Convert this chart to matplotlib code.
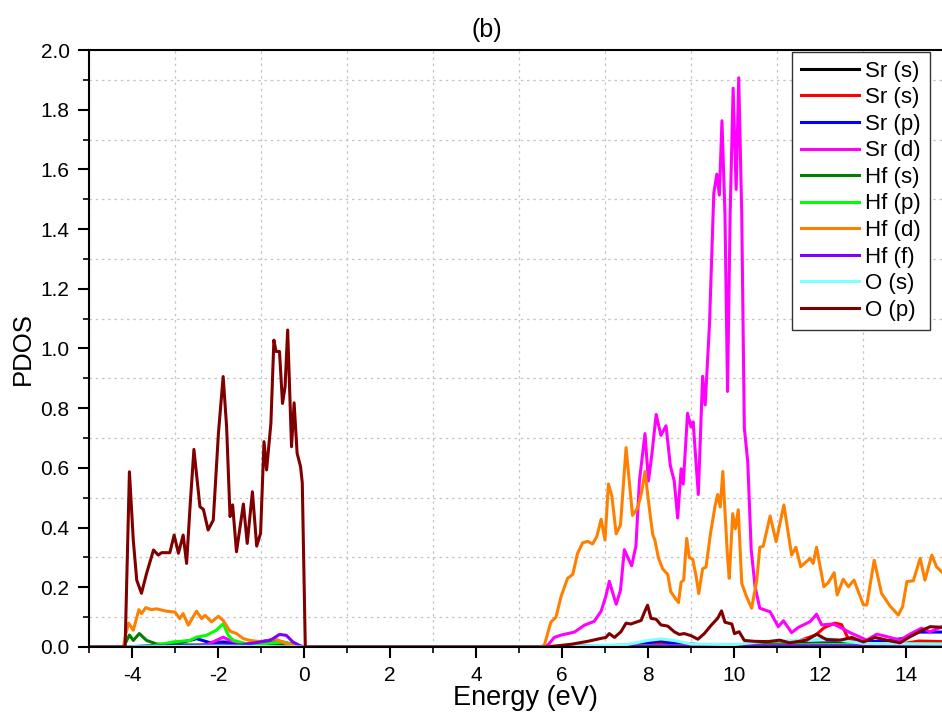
import matplotlib
matplotlib.use("Agg")
import matplotlib.pyplot as plt
from matplotlib.ticker import MultipleLocator

plt.rcParams['font.family'] = ['Liberation Sans', 'DejaVu Sans']
plt.rcParams['axes.unicode_minus'] = False

# energy grids (eV) and PDOS values
e_op = [-5, -4.2, -4.16, -4.06, -3.97, -3.89, -3.78, -3.66, -3.50, -3.39, -3.31, -3.12, -3.02,
        -2.92, -2.81, -2.73, -2.65, -2.56, -2.42, -2.34, -2.23, -2.11, -1.99, -1.88, -1.80,
        -1.72, -1.66, -1.57, -1.41, -1.32, -1.20, -1.10, -1.01, -0.93, -0.87, -0.77, -0.70,
        -0.65, -0.57, -0.50, -0.44, -0.38, -0.29, -0.23, -0.16, -0.08, -0.04, 0.03, 0.1,
        5.6, 5.82, 6.21, 6.60, 6.91, 7.02, 7.10, 7.22, 7.37, 7.49, 7.60, 7.84, 7.93, 7.99,
        8.07, 8.19, 8.30, 8.46, 8.61, 8.73, 8.84, 9.00, 9.16, 9.31, 9.47, 9.62, 9.71, 9.79,
        9.95, 10.01, 10.12, 10.24, 10.47, 10.8, 11.06, 11.29, 11.69, 11.92, 12.15, 12.47,
        12.74, 13.01, 13.28, 13.55, 13.86, 14.09, 14.36, 14.56, 14.84, 15]
op = [0, 0, 0.0, 0.587, 0.358, 0.224, 0.18, 0.247, 0.325, 0.308, 0.316, 0.316, 0.375,
      0.314, 0.375, 0.28, 0.47, 0.662, 0.47, 0.461, 0.392, 0.425, 0.716, 0.906, 0.738,
      0.437, 0.476, 0.319, 0.479, 0.347, 0.52, 0.338, 0.381, 0.688, 0.593, 0.749, 1.028,
      0.99, 0.99, 0.816, 0.872, 1.062, 0.671, 0.818, 0.649, 0.604, 0.55, 0.0, 0,
      0, 0.003, 0.009, 0.019, 0.029, 0.032, 0.045, 0.032, 0.051, 0.08, 0.077, 0.089, 0.121, 0.14,
      0.096, 0.093, 0.074, 0.07, 0.051, 0.042, 0.045, 0.038, 0.026, 0.045, 0.073, 0.096, 0.121, 0.083,
      0.077, 0.045, 0.051, 0.022, 0.019, 0.018, 0.023, 0.014, 0.023, 0.043, 0.025, 0.023,
      0.032, 0.017, 0.032, 0.023, 0.014, 0.034, 0.055, 0.068, 0.066, 0.066]

e_hfd = [-5, -4.2, -4.14, -4.08, -3.97, -3.84, -3.78, -3.68, -3.55, -3.43, -3.2, -3.0, -2.89,
         -2.81, -2.69, -2.5, -2.38, -2.3, -2.15, -1.99, -1.88, -1.72, -1.57, -1.41, -1.26,
         -0.95, -0.68, -0.41, 0.0, 0.1,
         5.5, 5.59, 5.74, 5.86, 5.98, 6.13, 6.25, 6.36, 6.48, 6.60, 6.71, 6.81, 6.91, 7.00,
         7.08, 7.16, 7.26, 7.36, 7.49, 7.64, 7.76, 7.85, 7.93, 8.03, 8.11, 8.16, 8.24, 8.34,
         8.46, 8.53, 8.65, 8.71, 8.77, 8.83, 8.90, 8.96, 9.04, 9.12, 9.18, 9.27, 9.35, 9.45,
         9.56, 9.62, 9.68, 9.74, 9.80, 9.85, 9.89, 9.97, 10.03, 10.10, 10.18, 10.29, 10.41,
         10.53, 10.60, 10.68, 10.84, 10.98, 11.16, 11.34, 11.44, 11.55, 11.77, 11.84, 11.92,
         12.09, 12.19, 12.33, 12.40, 12.54, 12.66, 12.79, 13.01, 13.09, 13.26, 13.43, 13.63,
         13.82, 13.92, 14.02, 14.17, 14.33, 14.44, 14.60, 14.71, 14.84, 15]
hfd = [0, 0, 0.045, 0.08, 0.056, 0.125, 0.112, 0.132, 0.125, 0.128, 0.12, 0.117, 0.095,
       0.112, 0.073, 0.12, 0.095, 0.106, 0.084, 0.103, 0.089, 0.053, 0.045, 0.028, 0.022,
       0.017, 0.028, 0.011, 0.0, 0,
       0, 0.006, 0.083, 0.10, 0.17, 0.23, 0.243, 0.313, 0.349, 0.354, 0.345, 0.37, 0.428, 0.358,
       0.546, 0.505, 0.379, 0.409, 0.668, 0.441, 0.466, 0.517, 0.588, 0.466, 0.377, 0.358, 0.30, 0.262,
       0.243, 0.185, 0.16, 0.149, 0.217, 0.224, 0.364, 0.30, 0.294, 0.236, 0.179, 0.262, 0.268, 0.377,
       0.473, 0.511, 0.469, 0.588, 0.428, 0.30, 0.23, 0.447, 0.396, 0.46, 0.213, 0.169, 0.13,
       0.224, 0.334, 0.338, 0.439, 0.353, 0.476, 0.308, 0.334, 0.269, 0.297, 0.28, 0.334,
       0.202, 0.215, 0.249, 0.174, 0.227, 0.202, 0.224, 0.141, 0.141, 0.291, 0.18, 0.137,
       0.107, 0.135, 0.219, 0.222, 0.297, 0.224, 0.308, 0.269, 0.25, 0.26]

e_srd = [-5, -4.2, -2.3, -2.04, -1.88, -1.72, -1.4, -0.9, -0.64, -0.33, 0.0, 0.1,
         5.5, 5.67, 5.82, 5.98, 6.29, 6.52, 6.75, 6.91, 7.02, 7.10, 7.26, 7.36, 7.45, 7.53,
         7.62, 7.72, 7.80, 7.93, 8.01, 8.09, 8.19, 8.30, 8.42, 8.52, 8.61, 8.69, 8.77, 8.82,
         8.92, 9.00, 9.05, 9.17, 9.27, 9.33, 9.43, 9.53, 9.60, 9.66, 9.72, 9.79, 9.85, 9.91,
         9.98, 10.05, 10.11, 10.18, 10.24, 10.32, 10.40, 10.49, 10.60, 10.84, 11.03, 11.15,
         11.34, 11.50, 11.77, 11.92, 12.04, 12.31, 12.47, 12.70, 13.09, 13.32, 13.55, 13.86,
         14.09, 14.36, 14.56, 14.84, 15]
srd = [0, 0, 0.005, 0.022, 0.033, 0.022, 0.01, 0.012, 0.022, 0.011, 0.0, 0,
       0, 0.006, 0.032, 0.04, 0.05, 0.073, 0.086, 0.12, 0.17, 0.22, 0.143, 0.19, 0.326, 0.30,
       0.272, 0.339, 0.556, 0.715, 0.556, 0.645, 0.779, 0.709, 0.741, 0.607, 0.556, 0.432, 0.597, 0.546,
       0.783, 0.737, 0.754, 0.511, 0.907, 0.811, 1.08, 1.52, 1.584, 1.514, 1.763, 1.45, 0.856, 1.45,
       1.872, 1.533, 1.907, 1.45, 0.735, 0.62, 0.326, 0.202, 0.13, 0.118, 0.068, 0.088,
       0.048, 0.066, 0.085, 0.11, 0.074, 0.077, 0.066, 0.048, 0.023, 0.043, 0.035, 0.023,
       0.043, 0.063, 0.051, 0.068, 0.068]

e_srs1 = [-5, -4.2, -3.0, -1.5, -0.5, 0.0, 5.6, 7.0, 8.5, 10.0, 11.5, 13.0, 14.84, 15]
srs1 = [0, 0, 0.003, 0.004, 0.005, 0, 0, 0.003, 0.006, 0.004, 0.005, 0.004, 0.006, 0.006]

e_srs2 = [-5, -4.2, -3.0, -1.8, -0.6, 0.0, 5.6, 7.5, 8.5, 9.5, 10.5, 11.5, 11.9, 12.1, 12.35,
          12.5, 12.65, 13.0, 13.8, 14.3, 14.84, 15]
srs2 = [0, 0, 0.004, 0.01, 0.012, 0, 0, 0.005, 0.015, 0.005, 0.008, 0.02, 0.04, 0.065, 0.08,
        0.075, 0.03, 0.01, 0.008, 0.02, 0.018, 0.018]

e_srp = [-5, -4.2, -3.2, -2.65, -2.5, -2.2, -1.88, -1.3, -0.72, -0.48, 0.0, 5.6, 7.5, 8.0,
         8.3, 8.6, 9.5, 11.0, 12.5, 13.5, 14.0, 14.3, 14.84, 15]
srp = [0, 0, 0.006, 0.022, 0.028, 0.015, 0.017, 0.01, 0.025, 0.013, 0, 0, 0.006, 0.015,
       0.02, 0.012, 0.006, 0.01, 0.015, 0.02, 0.03, 0.05, 0.05, 0.05]

e_hfs = [-5, -4.2, -4.06, -3.97, -3.83, -3.66, -3.43, -2.5, -1.5, -0.5, 0.0, 5.6, 8.0,
         10.5, 12.0, 14.84, 15]
hfs = [0, 0, 0.04, 0.022, 0.045, 0.022, 0.01, 0.006, 0.005, 0.004, 0, 0, 0.004,
       0.008, 0.01, 0.01, 0.01]

e_hfp = [-5, -4.2, -3.5, -3.04, -2.65, -2.5, -2.27, -2.04, -1.88, -1.76, -1.64, -1.33,
         -0.95, -0.48, 0.0, 5.6, 8.0, 10.5, 12.0, 14.84, 15]
hfp = [0, 0, 0.004, 0.017, 0.022, 0.033, 0.039, 0.056, 0.078, 0.039, 0.022, 0.011,
       0.011, 0.017, 0, 0, 0.004, 0.005, 0.008, 0.01, 0.01]

e_hff = [-5, -4.2, -3.0, -1.5, -0.79, -0.57, -0.41, -0.26, -0.1, 0.0, 5.6, 9.0, 12.0, 14.84, 15]
hff = [0, 0, 0.004, 0.006, 0.022, 0.042, 0.039, 0.017, 0.005, 0, 0, 0.004, 0.004, 0.004, 0.004]

e_os = [-5, -4.2, -2.0, 0.0, 5.6, 7.5, 8.0, 8.3, 8.6, 9.0, 10.0, 10.8, 11.1, 11.5, 12.2,
        13.0, 14.84, 15]
os_ = [0, 0, 0.003, 0, 0, 0.008, 0.022, 0.027, 0.022, 0.01, 0.008, 0.02, 0.02, 0.022, 0.028,
       0.012, 0.01, 0.01]

labels = ['Sr (s)', 'Sr (s)', 'Sr (p)', 'Sr (d)', 'Hf (s)', 'Hf (p)', 'Hf (d)', 'Hf (f)', 'O (s)', 'O (p)']
colors = ['#000000', '#FF0000', '#0000FF', '#FF00FF', '#008000', '#00FF00', '#FF8000',
          '#8000FF', '#80FFFF', '#800000']
series = [(e_srs1, srs1), (e_srs2, srs2), (e_srp, srp), (e_srd, srd), (e_hfs, hfs),
          (e_hfp, hfp), (e_hfd, hfd), (e_hff, hff), (e_os, os_), (e_op, op)]

fig = plt.figure(figsize=(9.42, 7.22), dpi=100)
# axes runs a little past the right edge, like the cropped original
ax = fig.add_axes([89 / 942, 75 / 722, 860 / 942, 597 / 722])

for (e, v), lab, c in zip(series, labels, colors):
    ax.plot(e, v, color=c, lw=2.2, label=lab)

ax.set_xlim(-5, 15)
ax.set_ylim(0, 2.0)
ax.xaxis.set_major_locator(MultipleLocator(2))
ax.xaxis.set_minor_locator(MultipleLocator(1))
ax.yaxis.set_major_locator(MultipleLocator(0.2))
ax.yaxis.set_minor_locator(MultipleLocator(0.1))
ax.grid(which='minor', color='#c4c4c4', ls=(0, (2, 3)), lw=0.9)
ax.grid(which='major', visible=False)
ax.tick_params(which='major', direction='out', length=8, width=1.5, labelsize=15, pad=6)
ax.tick_params(which='minor', direction='out', length=4.5, width=1.2)
for s in ax.spines.values():
    s.set_linewidth(1.5)

ax.set_xlabel('Energy (eV)', fontsize=19.5, labelpad=0, x=0.508)
ax.set_ylabel('PDOS', fontsize=18.5, labelpad=4)
ax.set_title('(b)', fontsize=18, x=0.462, pad=9)

leg = ax.legend(loc='upper right', bbox_to_anchor=(0.978, 0.997), borderaxespad=0,
                fontsize=16, handlelength=2.6, handletextpad=0.3, labelspacing=0.25,
                borderpad=0.4, fancybox=False, framealpha=1, edgecolor='#333333')
leg.get_frame().set_linewidth(1.0)

fig.savefig('out.png', dpi=100)
